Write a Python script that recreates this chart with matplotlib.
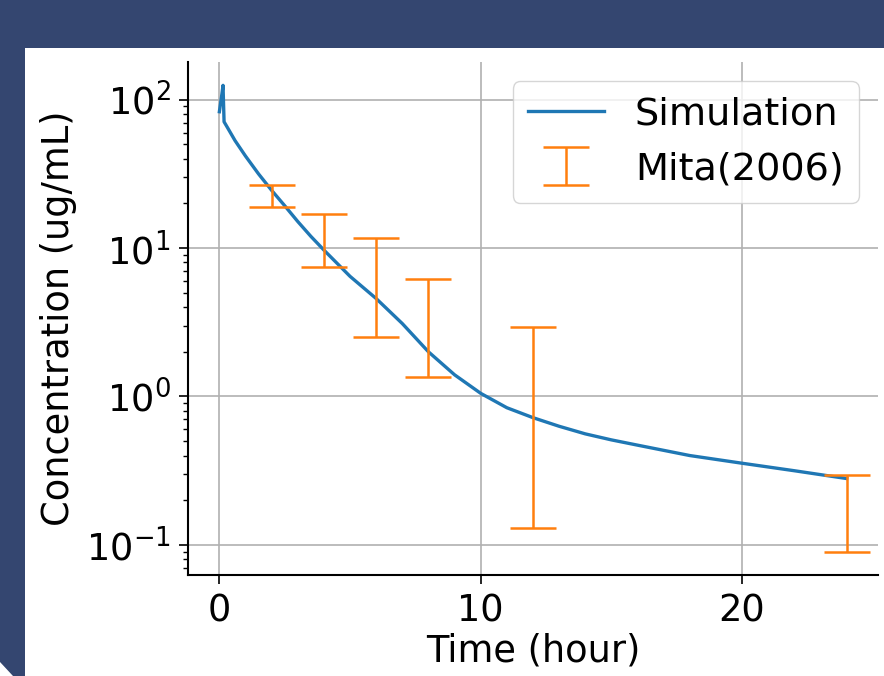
import matplotlib
matplotlib.use("Agg")
import matplotlib.pyplot as plt
import numpy as np
from matplotlib.patches import Rectangle, Polygon

# simulated concentration
sim_time = [0, 0.1, 0.14, 0.18, 0.33, 0.6, 1.0, 1.5, 2.0, 2.5, 3.0, 3.5, 4.0,
            5.0, 6.0, 7.0, 8.0, 9.0, 10.0, 11.0, 12.0, 13.0, 14.0, 15.0,
            16.0, 18.0, 20.0, 22.0, 24.0]
sim_conc = [83, 110, 125, 71, 64, 53, 41.7, 31.6, 24.5, 19.3, 15.1, 12.0, 9.7,
            6.45, 4.57, 3.1, 2.0, 1.40, 1.05, 0.84, 0.72, 0.63, 0.56, 0.51,
            0.47, 0.40, 0.355, 0.316, 0.28]

# Mita (2006) observed ranges
obs_time = [2, 4, 6, 8, 12, 24]
obs_low = [18.8, 7.5, 2.5, 1.36, 0.129, 0.09]
obs_high = [26.6, 16.9, 11.7, 6.2, 2.96, 0.298]

FS = 26.5
bg = "#344670"

fig = plt.figure(figsize=(8.84, 6.76), dpi=100, facecolor=bg)
# white slide panel
fig.patches.append(Rectangle((25 / 884, 0), 1 - 25 / 884, 1 - 48 / 676,
                             transform=fig.transFigure, facecolor="white",
                             edgecolor="none", zorder=-5))
fig.patches.append(Polygon([(0, 0), (0, 14 / 676), (13 / 884, 0)], closed=True,
                           transform=fig.transFigure, facecolor="white",
                           edgecolor="none", zorder=-5))

ax = fig.add_axes([188 / 884, 1 - 575 / 676, 690 / 884, 513 / 676])
ax.set_facecolor("none")
ax.set_zorder(1)

low = np.array(obs_low)
high = np.array(obs_high)
mid = np.sqrt(low * high)

ax.plot(sim_time, sim_conc, color="#1f77b4", lw=2.4, label="Simulation")
ax.errorbar(obs_time, mid, yerr=[mid - low, high - mid], fmt="none",
            ecolor="#ff7f0e", elinewidth=1.8, capsize=16.5, capthick=1.8,
            label="Mita(2006)")

ax.set_yscale("log")
ax.set_xticks([0, 10, 20])
ax.grid(True, which="major", color="#b0b0b0", lw=1.2)
ax.set_axisbelow(True)

for s in ["top", "right"]:
    ax.spines[s].set_visible(False)
for s in ["left", "bottom"]:
    ax.spines[s].set_linewidth(1.5)

ax.tick_params(which="major", length=6.5, width=1.2, labelsize=FS, pad=6)
ax.tick_params(which="minor", length=3.5, width=1.0)

ax.set_xlabel("Time (hour)", fontsize=FS, labelpad=2)
ax.set_ylabel("Concentration (ug/mL)", fontsize=FS, labelpad=6)

ax.legend(loc="upper right", fontsize=27.5, borderaxespad=0.5)

fig.savefig("out.png", dpi=100, facecolor=bg)
